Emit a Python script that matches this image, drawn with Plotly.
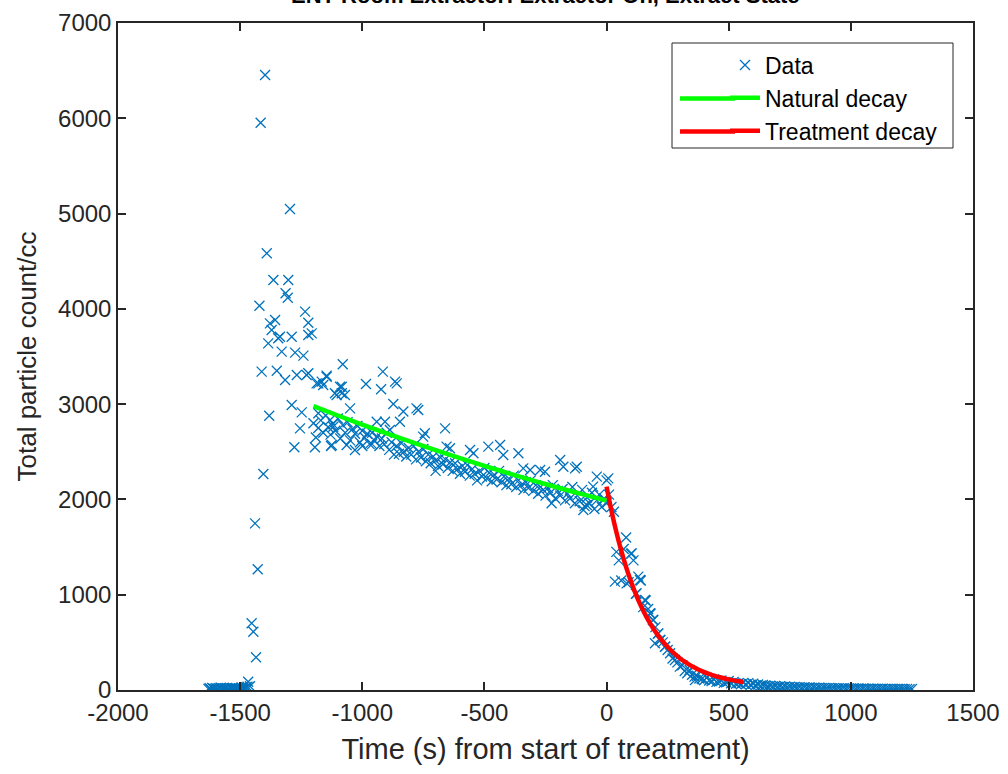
import plotly.graph_objects as go

# ---------------- data ----------------
# pre-event baseline (t from -1630, every 5 s)
base_t0 = -1630
base_dt = 5
base_y = [12, 18, 9, 22, 15, 11, 20, 14, 8, 17, 25, 13, 19, 10, 16, 21, 12,
          9, 18, 14, 23, 11, 15, 20, 13, 17, 10, 24, 16, 12, 19, 28, 35]

# spike / early region (irregular points)
spike_x = [-1467, -1460, -1453, -1446, -1435, -1439, -1428, -1405, -1421, -1416,
           -1398, -1391, -1381, -1385, -1412, -1378, -1371, -1364, -1357, -1350,
           -1344, -1337, -1330, -1316, -1314, -1305, -1303, -1296, -1289, -1289,
           -1278, -1275, -1268, -1255, -1248, -1241, -1234, -1228, -1221, -1221,
           -1221, -1207, -1194, -1187, -1180, -1180, -1166, -1160, -1146, -1146,
           -1132, -1128, -1125, -1119, -1112, -1105, -1091, -1084, -1084, -1080,
           -1071, -1064, -1050, -1030]
spike_y = [87, 40, 700, 612, 343, 1749, 1267, 2267, 4033, 5954,
           6454, 4583, 2879, 3638, 3341, 3848, 3778, 4303, 3883, 3351,
           3691, 3708, 3551, 3253, 4163, 4117, 4303, 5048, 3708, 2991,
           2547, 3541, 3306, 2746, 2914, 3509, 3971, 3306, 3855, 3726,
           3324, 3743, 2547, 3218, 2904, 3218, 3236, 3201, 3299, 3288,
           2834, 2561, 2571, 2763, 3114, 3096, 3183, 3183, 3114, 3418,
           3096, 2571, 2956, 2519]

# scattered points above / below the natural-decay band
mid_out_x = [-985, -923, -916, -873, -866, -859, -832, -778, -771, -907,
             -846, -941, -887, -744, -661, -751, -655, -641, -559, -545,
             -484, -436, -423, -361, -341, -313, -272, -190, -177, -129,
             -122, -252, -40, 7, -55, -95, -81, -13, -225, -1000, -960, -700]
mid_out_y = [3211, 3156, 3341, 3002, 3236, 3218, 2922, 2956, 2939, 2816,
             2816, 2816, 2729, 2694, 2746, 2659, 2554, 2537, 2519, 2484,
             2554, 2571, 2466, 2484, 2326, 2309, 2309, 2414, 2343, 2326,
             2343, 2291, 2239, 2221, 2134, 1889, 1942, 1994, 1960, 2560, 2580, 2300]

# dense natural-decay band (t from -1200, every 10 s)
mid_t0 = -1200
mid_dt = 10
mid_y = [2800, 2650, 2750, 2830, 2700, 2880, 2760, 2680, 2790, 2720,
         2850, 2640, 2780, 2700, 2810, 2620, 2740, 2690, 2770, 2600,
         2720, 2650, 2690, 2580, 2700, 2620, 2660, 2560, 2640, 2580,
         2700, 2520, 2600, 2470, 2560, 2480, 2590, 2500, 2450, 2540,
         2470, 2560, 2420, 2500, 2440, 2530, 2400, 2470, 2380, 2450,
         2410, 2350, 2440, 2370, 2420, 2330, 2390, 2300, 2380, 2320,
         2270, 2350, 2290, 2360, 2250, 2320, 2270, 2200, 2300, 2240,
         2330, 2220, 2280, 2190, 2260, 2210, 2300, 2180, 2240, 2150,
         2220, 2160, 2250, 2130, 2200, 2150, 2100, 2180, 2120, 2200,
         2090, 2150, 2060, 2130, 2100, 2040, 2120, 2070, 2150, 2010,
         2090, 2040, 2110, 1990, 2060, 2010, 2130, 1960, 2040, 1980,
         2100, 1930, 2020, 1960, 2070, 1900, 1990, 2050, 1920, 2010,
         1960]

# treatment decay data (t from 0, every 10 s)
trt_t0 = 0
trt_dt = 10
trt_y = [2200, 2050, 1920, 1870, 1450, 1360, 1150, 1480, 1600, 1130,
         1430, 1360, 1010, 1190, 1150, 870, 940, 850, 800, 735,
         660, 590, 525, 500, 455, 420, 385, 330, 315, 290,
         245, 260, 200, 175, 210, 160, 140, 150, 120, 115,
         105, 130, 100, 95, 110, 85, 90, 100, 75, 80,
         95, 70, 85, 65, 70, 60, 75]
trt_extra_x = [34, 82, 103, 123, 137, 157, 178, 191, 198, 212, 219, 239, 362]
trt_extra_y = [1137, 1119, 1434, 1014, 1154, 945, 805, 735, 490, 594, 525, 454, 105]

# tail (t from 570, every 10 s)
tail_t0 = 570
tail_dt = 10
tail_y = [60, 72, 55, 65, 50, 58, 45, 52, 48, 40, 45, 38, 42, 35, 40, 33, 36, 30,
          34, 28, 32, 27, 30, 25, 28, 24, 26, 22, 25, 21, 23, 20, 22, 19, 21, 18,
          20, 17, 19, 16, 18, 15, 17, 15, 16, 14, 15, 13, 15, 13, 14, 12, 14, 12,
          13, 11, 13, 11, 12, 10, 12, 10, 11, 10, 11, 9, 10, 9, 10]

# fitted curves
nat_x = [-1200, -1100, -1000, -900, -800, -700, -600, -500, -400, -300, -200, -100, 0]
nat_y = [2980, 2881, 2785, 2693, 2603, 2517, 2433, 2352, 2274, 2198, 2125, 2055, 1987]

tr_x = [0, 20, 40, 60, 80, 100, 120, 140, 160, 180, 200, 220, 240, 260, 280,
        300, 320, 340, 360, 380, 400, 420, 440, 460, 480, 500, 520, 540, 560]
tr_y = [2135, 1882, 1658, 1462, 1290, 1138, 1004, 886, 783, 692, 612, 541, 479,
        425, 377, 334, 297, 264, 236, 210, 188, 169, 151, 136, 123, 111, 101, 92, 84]

x_ticks = [-2000, -1500, -1000, -500, 0, 500, 1000, 1500]
x_tick_labels = ["-2000", "-1500", "-1000", "-500", "0", "500", "1000", "1500"]
y_ticks = [0, 1000, 2000, 3000, 4000, 5000, 6000, 7000]
y_tick_labels = ["0", "1000", "2000", "3000", "4000", "5000", "6000", "7000"]

title_text = "ENT Room Extractor: Extractor On, Extract State"

# ---------------- assemble ----------------
def seq(t0, dt, ys):
    return [t0 + dt * i for i in range(len(ys))]

data_x = (seq(base_t0, base_dt, base_y) + spike_x + mid_out_x +
          seq(mid_t0, mid_dt, mid_y) + seq(trt_t0, trt_dt, trt_y) +
          trt_extra_x + seq(tail_t0, tail_dt, tail_y))
data_y = base_y + spike_y + mid_out_y + mid_y + trt_y + trt_extra_y + tail_y

BLUE = "#0072BD"
GREEN = "#00FF00"
RED = "#FF0000"
DARK = "#262626"
FONT = "Liberation Sans, Arial, sans-serif"

fig = go.Figure()
fig.add_trace(go.Scatter(
    x=data_x, y=data_y, mode="markers", name="Data",
    marker=dict(symbol="x-thin", size=10, color=BLUE,
                line=dict(width=1.3, color=BLUE)),
))
fig.add_trace(go.Scatter(
    x=nat_x, y=nat_y, mode="lines", name="Natural decay",
    line=dict(color=GREEN, width=4.5, shape="spline"),
))
fig.add_trace(go.Scatter(
    x=tr_x, y=tr_y, mode="lines", name="Treatment decay",
    line=dict(color=RED, width=4.5, shape="spline"),
))

axis_common = dict(
    showline=True, linecolor=DARK, linewidth=1.5, mirror="ticks",
    ticks="inside", ticklen=8, tickwidth=1.5, tickcolor=DARK,
    showgrid=False, zeroline=False, automargin=False,
    tickfont=dict(family=FONT, size=24, color=DARK),
)

# legend frame (MATLAB-style, with long line samples)
def px_x(p):
    return (p - 118) / 855.0

def px_y(p):
    return (690 - p) / 667.0

shapes = [
    dict(type="rect", xref="paper", yref="paper",
         x0=px_x(672), x1=px_x(953), y0=px_y(148), y1=px_y(43),
         line=dict(color=DARK, width=1), fillcolor="white", layer="above"),
    dict(type="line", xref="paper", yref="paper",
         x0=px_x(680), x1=px_x(735), y0=px_y(98.5), y1=px_y(98.5),
         line=dict(color=GREEN, width=4.5), layer="above"),
    dict(type="line", xref="paper", yref="paper",
         x0=px_x(680), x1=px_x(735), y0=px_y(131.5), y1=px_y(131.5),
         line=dict(color=RED, width=4.5), layer="above"),
]

fig.update_layout(
    width=1008, height=774,
    margin=dict(l=118, r=35, t=23, b=84, autoexpand=False),
    paper_bgcolor="white", plot_bgcolor="white",
    font=dict(family=FONT, color=DARK),
    xaxis=dict(range=[-2000, 1500], tickvals=x_ticks, ticktext=x_tick_labels,
               title=dict(text="Time (s) from start of treatment)",
                          font=dict(family=FONT, size=29, color=DARK),
                          standoff=14),
               **axis_common),
    yaxis=dict(range=[0, 7000], tickvals=y_ticks, ticktext=y_tick_labels,
               title=dict(text="Total particle count/cc",
                          font=dict(family=FONT, size=26, color=DARK),
                          standoff=14),
               **axis_common),
    legend=dict(x=px_x(725), y=px_y(43.5), xanchor="left", yanchor="top",
                bgcolor="rgba(0,0,0,0)", borderwidth=0,
                font=dict(family=FONT, size=23, color="black"),
                tracegroupgap=0),
    showlegend=True,
    shapes=shapes,
    annotations=[dict(text="<b>" + title_text + "</b>", xref="paper", yref="paper",
                      x=0.5, y=1.020, xanchor="center", yanchor="bottom",
                      showarrow=False,
                      font=dict(family=FONT, size=22, color="black"))],
)

fig.write_html("out.html")
